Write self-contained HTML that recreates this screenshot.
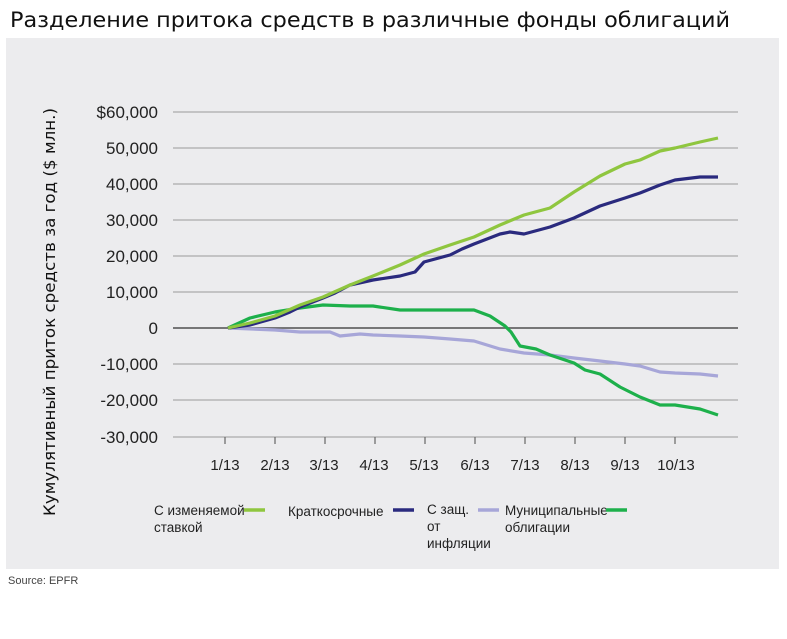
<!DOCTYPE html>
<html><head><meta charset="utf-8"><style>
body{margin:0;width:787px;height:634px;background:#fff;overflow:hidden;font-family:"Liberation Sans","DejaVu Sans",sans-serif;}
</style></head><body>
<svg width="787" height="634" xmlns="http://www.w3.org/2000/svg" font-family="Liberation Sans, DejaVu Sans, sans-serif">
<text x="10" y="27" font-size="21" fill="#111" font-family="DejaVu Sans, sans-serif" textLength="720" lengthAdjust="spacingAndGlyphs">Разделение притока средств в различные фонды облигаций</text>
<rect x="6" y="38" width="773" height="531" fill="#ececee"/>
<g stroke="#aaa" stroke-width="1.3">
<line x1="173" x2="738" y1="112" y2="112"/><line x1="173" x2="738" y1="148" y2="148"/>
<line x1="173" x2="738" y1="184" y2="184"/><line x1="173" x2="738" y1="220" y2="220"/>
<line x1="173" x2="738" y1="256" y2="256"/><line x1="173" x2="738" y1="292" y2="292"/>
<line x1="173" x2="738" y1="364" y2="364"/><line x1="173" x2="738" y1="400" y2="400"/>
<line x1="173" x2="738" y1="437" y2="437"/>
</g>
<line x1="173" x2="738" y1="328" y2="328" stroke="#666" stroke-width="1.8"/>
<g stroke="#666" stroke-width="1.2">
<line x1="225" x2="225" y1="437" y2="444"/><line x1="275" x2="275" y1="437" y2="444"/><line x1="325" x2="325" y1="437" y2="444"/><line x1="375" x2="375" y1="437" y2="444"/><line x1="425" x2="425" y1="437" y2="444"/><line x1="475" x2="475" y1="437" y2="444"/><line x1="525" x2="525" y1="437" y2="444"/><line x1="575" x2="575" y1="437" y2="444"/><line x1="625" x2="625" y1="437" y2="444"/><line x1="675" x2="675" y1="437" y2="444"/>
</g>
<g font-size="17" fill="#222" text-anchor="end">
<text x="158" y="118">$60,000</text><text x="158" y="154">50,000</text><text x="158" y="190">40,000</text><text x="158" y="226">30,000</text><text x="158" y="262">20,000</text><text x="158" y="298">10,000</text><text x="158" y="334">0</text><text x="158" y="370">-10,000</text><text x="158" y="406">-20,000</text><text x="158" y="443">-30,000</text>
</g>
<g font-size="15" fill="#222" text-anchor="middle">
<text x="225" y="470">1/13</text><text x="275" y="470">2/13</text><text x="324" y="470">3/13</text><text x="374" y="470">4/13</text><text x="424" y="470">5/13</text><text x="475" y="470">6/13</text><text x="525" y="470">7/13</text><text x="575" y="470">8/13</text><text x="625" y="470">9/13</text><text x="676" y="470">10/13</text>
</g>
<text transform="translate(55,312) rotate(-90)" font-size="16" fill="#111" text-anchor="middle" font-family="DejaVu Sans, sans-serif" textLength="408" lengthAdjust="spacingAndGlyphs">Кумулятивный приток средств за год ($ млн.)</text>
<g fill="none" stroke-width="3.2" stroke-linejoin="round">
<polyline stroke="#a7a6d8" points="228,328 275,330 300,332 330,332 340,336 360,334 373,335 400,336 424,337 450,339 474,341 500,349 524,353 550,355 574,358 600,361 625,364 640,366 660,372 675,373 700,374 718,376"/>
<polyline stroke="#1db04b" points="228,328 250,318 275,312 300,308 323,305 350,306 373,306 400,310 424,310 450,310 474,310 490,316 505,326 511,332 520,346 536,349 550,355 574,363 585,370 600,374 620,387 640,397 660,405 675,405 700,409 718,415"/>
<polyline stroke="#2a2a7e" points="228,328 250,325 275,318 290,312 300,307 323,298 335,293 350,285 373,280 400,276 415,272 424,262 450,255 462,249 474,244 500,234 510,232 524,234 550,227 574,218 600,206 625,198 640,193 660,185 675,180 700,177 718,177"/>
<polyline stroke="#8fc63f" points="228,328 250,323 275,316 300,305 323,297 350,285 373,276 400,265 424,254 450,245 474,237 500,225 524,215 550,208 574,192 600,176 625,164 640,160 660,151 675,148 700,142 718,138"/>
</g>
<g font-size="13.5" fill="#222">
<text x="154" y="515">С изменяемой</text><text x="154" y="532">ставкой</text>
<text x="288" y="516">Краткосрочные</text>
<text x="427" y="514">С защ.</text><text x="427" y="531">от</text><text x="427" y="548">инфляции</text>
<text x="505" y="515">Муниципальные</text><text x="505" y="532">облигации</text>
</g>
<g stroke-width="3.5">
<line x1="244" x2="265" y1="510" y2="510" stroke="#8fc63f"/>
<line x1="393" x2="414" y1="510" y2="510" stroke="#2a2a7e"/>
<line x1="478" x2="499" y1="510" y2="510" stroke="#a7a6d8"/>
<line x1="606" x2="627" y1="510" y2="510" stroke="#1db04b"/>
</g>
<text x="8" y="584" font-size="11" fill="#444">Source: EPFR</text>
</svg>
</body></html>
